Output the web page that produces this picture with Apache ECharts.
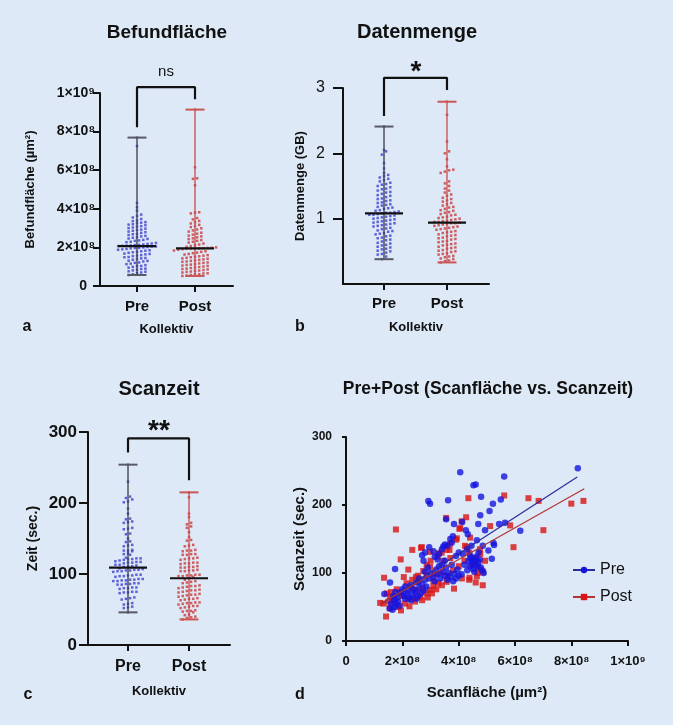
<!DOCTYPE html>
<head>
    <meta charset="utf-8"/>
    <style>
        html,body { height:100%; width:100%; margin:0; padding:0; background:#dde9f6; }
    </style>
</head>
<body>

<div id="fig" style="width:673px;height:725px;"></div>

<script src="https://cdn.jsdelivr.net/npm/echarts@6/dist/echarts.min.js"></script>
<script type="text/javascript">

 var FONT = "'Liberation Sans', Arial, sans-serif";
 var groups = ['Pre', 'Post'];

 // a: Befundfläche, Werte in 1e8 µm²
 var befundPre = [0.57,0.61,0.66,0.7,0.74,0.76,0.81,0.84,0.88,0.9,0.95,0.99,1.03,1.04,1.08,1.13,1.16,1.2,1.22,1.27,
     1.3,1.31,1.36,1.4,1.43,1.45,1.49,1.5,1.55,1.58,1.6,1.64,1.66,1.68,1.72,1.75,1.77,1.8,1.83,1.85,
     1.88,1.9,1.92,1.95,1.97,1.98,2.0,2.02,2.04,2.05,2.07,2.08,2.09,2.1,2.12,2.13,2.15,2.18,2.2,2.23,
     2.27,2.29,2.34,2.36,2.39,2.44,2.46,2.5,2.53,2.57,2.6,2.64,2.68,2.7,2.75,2.79,2.82,2.86,2.9,2.92,
     2.97,3.0,3.03,3.08,3.1,3.15,3.18,3.2,3.26,3.28,3.31,3.36,3.4,3.47,3.55,3.63,3.7,3.9,4.08,4.3,7.25,7.69];
 var befundPost = [0.52,0.54,0.57,0.6,0.61,0.65,0.66,0.7,0.73,0.75,0.78,0.8,0.83,0.86,0.88,0.9,0.93,0.96,0.98,1.01,
     1.04,1.06,1.09,1.11,1.14,1.17,1.2,1.22,1.25,1.27,1.3,1.33,1.35,1.38,1.41,1.43,1.46,1.49,1.52,1.54,
     1.57,1.6,1.63,1.66,1.7,1.73,1.77,1.8,1.84,1.88,1.91,1.93,1.94,1.95,1.95,1.96,1.97,1.98,2.0,2.03,
     2.07,2.11,2.15,2.2,2.25,2.29,2.34,2.38,2.43,2.47,2.52,2.57,2.61,2.66,2.71,2.76,2.82,2.88,2.93,2.99,
     3.05,3.11,3.17,3.24,3.3,3.37,3.45,3.52,3.76,3.8,3.82,5.22,5.55,5.58,6.15,9.14];

 // b: Datenmenge (GB)
 var datenPre = [0.38,0.42,0.45,0.46,0.48,0.5,0.51,0.53,0.54,0.56,0.57,0.59,0.6,0.62,0.63,0.65,0.67,0.68,0.7,0.71,
     0.73,0.74,0.76,0.77,0.78,0.8,0.81,0.82,0.84,0.85,0.86,0.88,0.89,0.9,0.91,0.92,0.93,0.94,0.95,0.96,
     0.97,0.98,0.99,1.0,1.01,1.02,1.03,1.04,1.05,1.06,1.06,1.07,1.08,1.09,1.09,1.1,1.11,1.12,1.13,1.15,
     1.16,1.17,1.18,1.2,1.21,1.22,1.24,1.25,1.27,1.28,1.3,1.31,1.33,1.35,1.36,1.38,1.4,1.41,1.43,1.45,
     1.46,1.48,1.5,1.52,1.53,1.55,1.57,1.59,1.61,1.63,1.65,1.67,1.7,1.77,1.85,1.98,2.03,2.05,2.41];
 var datenPost = [0.33,0.35,0.36,0.38,0.39,0.41,0.42,0.43,0.45,0.46,0.47,0.49,0.5,0.51,0.52,0.54,0.55,0.56,0.57,0.59,
     0.6,0.61,0.62,0.64,0.65,0.66,0.68,0.69,0.7,0.71,0.73,0.74,0.75,0.76,0.78,0.79,0.8,0.81,0.83,0.84,
     0.85,0.86,0.87,0.88,0.89,0.9,0.91,0.92,0.93,0.93,0.94,0.95,0.95,0.96,0.97,0.98,0.99,1.0,1.01,1.02,
     1.03,1.05,1.06,1.07,1.09,1.1,1.12,1.13,1.15,1.17,1.18,1.2,1.22,1.24,1.26,1.28,1.3,1.32,1.35,1.37,
     1.4,1.43,1.46,1.5,1.54,1.57,1.7,1.72,1.74,1.75,1.8,1.91,2.0,2.03,2.18,2.59,2.79];

 // c: Scanzeit (sec.)
 var zeitPre = [254,230,209,207,205,202,201,192,185,178,177,174,173,172,165,164,163,157,156,150,
     146,145,141,140,139,134,133,133,132,129,128,127,123,122,122,121,121,120,119,118,
     117,117,116,116,115,113,113,112,111,111,110,108,107,106,106,105,105,104,104,103,
     99,99,98,98,97,97,96,93,93,92,92,91,91,90,90,87,87,86,86,85,
     85,81,81,80,80,79,75,75,74,74,73,67,66,65,64,59,58,57,54,53,52,46];
 var zeitPost = [215,208,185,180,172,170,167,165,159,152,148,147,141,140,139,134,133,133,132,128,
     128,127,127,123,122,122,121,120,116,116,115,115,114,111,110,110,109,109,106,105,
     105,104,104,99,99,98,98,97,97,96,94,92,90,89,88,87,84,83,83,82,
     81,80,78,77,77,76,75,74,72,71,71,70,69,68,66,65,65,64,63,60,
     60,59,59,58,57,55,55,54,53,52,49,48,48,47,46,43,42,40,39,38,36];

 // Mediane (aus der Abbildung)
 var befundMedian = [2.07, 1.95];
 var datenMedian = [1.08, 0.94];
 var zeitMedian = [109, 94];

 // d: Scanfläche (1e8 µm²) vs. Scanzeit (sec.)
 var scanPre = [[8.22,254],[4.05,248],[5.61,242],[4.52,229],[4.6,230],[2.92,206],[2.98,202],[3.62,207],[4.79,212],[5.21,202],
     [5.49,208],[5.09,191],[4.76,185],[3.55,179],[3.83,172],[4.12,175],[4.69,172],[4.25,163],[4.32,157],[4.93,163],
     [5.43,172],[5.64,174],[3.79,154],[4.64,148],[3.51,142],[3.45,139],[5.23,144],[5.25,141],[5.05,133],[5.17,121],[6.18,162],
     [3.4,135],[3.6,140],[3.7,150],[3.75,145],[3.3,128],[3.1,132],[2.95,138],[2.8,130],[2.7,126],[2.75,118],
     [3.15,124],[3.25,120],[3.5,118],[3.9,125],[4.0,130],[4.15,128],[4.3,135],[4.45,140],[4.4,126],[4.7,130],[4.85,140],
     [4.35,118],[4.42,122],[4.48,115],[4.52,120],[4.56,112],[4.6,118],[4.62,124],[4.66,110],[4.7,116],[4.74,120],
     [4.78,108],[4.5,106],[4.4,110],[4.3,104],[4.82,104],[4.88,100],[4.55,102],[4.2,112],[4.1,98],[3.95,105],
     [3.0,100],[3.1,95],[3.2,105],[3.25,98],[3.3,110],[3.35,92],[3.45,102],[3.5,96],[3.55,108],[3.6,90],
     [3.65,100],[3.7,94],[3.75,112],[3.8,88],[3.85,99],[3.9,92],[4.0,96],[3.4,112],[3.15,88],[2.95,92],[2.8,102],[2.9,108],
     [1.95,72],[2.0,76],[2.05,66],[2.1,80],[2.15,70],[2.2,74],[2.25,64],[2.3,82],[2.35,68],[2.4,76],[2.45,72],
     [2.5,86],[2.55,66],[2.6,78],[2.65,70],[2.7,84],[2.75,74],[2.8,90],[2.85,80],[2.5,62],[2.3,60],[2.1,62],[2.6,92],
     [1.55,48],[1.6,55],[1.65,46],[1.7,60],[1.72,50],[1.78,54],[1.82,64],[1.85,58],[1.9,52],[1.68,66],[1.75,72],
     [1.36,69],[1.56,86],[1.74,106]];
 var scanPost = [[8.42,206],[7.99,202],[6.83,206],[6.47,210],[7.0,163],[5.94,138],[5.82,170],[5.61,214],[4.34,210],[4.26,182],
     [3.55,181],[5.11,169],[4.05,166],[4.4,152],[4.22,140],[3.9,149],[3.69,143],[1.77,164],[2.69,138],[2.35,134],
     [1.94,120],[1.35,93],[2.21,105],[2.98,131],[3.28,129],[2.86,112],[2.48,94],[3.83,77],[4.38,93],[4.67,100],
     [4.11,92],[1.21,56],[1.42,36],[1.33,55],[4.1,176],[4.02,165],[3.93,151],[3.57,134],[2.66,137],[3.24,124],
     [3.39,130],[3.67,134],[4.28,138],[4.37,130],[4.76,128],[4.93,118],[2.98,109],[2.86,97],[2.74,103],[3.28,85],
     [3.1,88],[3.57,87],[4.37,90],[4.64,95],[4.86,102],[2.15,85],[2.33,77],[2.51,75],[1.92,70],[1.74,63],
     [1.56,65],[2.39,63],[2.63,65],[2.86,70],[2.74,77],[2.57,87],[2.98,75],[3.1,80],[2.09,55],[2.25,51],
     [1.86,50],[1.68,58],[1.5,58],[1.6,72],[1.8,76],[2.0,66],[2.2,62],[2.45,58],[2.7,60],[2.9,64],
     [3.05,70],[3.2,76],[3.4,82],[3.6,96],[3.8,104],[4.0,110],[4.2,118],[4.45,112],[4.55,122],[4.7,108],
     [3.35,100],[3.15,98],[2.55,96],[2.35,90],[2.05,94],[1.45,70],[1.55,48],[1.95,45],[3.0,118],[3.45,118],
     [3.7,122],[4.6,86],[4.85,82],[4.75,135]];
 // Regressionsgeraden (Endpunkte aus der Abbildung)
 var fitPre = [[1.3,56],[8.2,241]];
 var fitPost = [[1.18,54],[8.45,224]];

 var powLabels = ['0','2×10⁸','4×10⁸','6×10⁸','8×10⁸','1×10⁹'];

 var E8 = 1e8;
 var DOT_GAP = 4.2, ROW_H = 3.3;

 // GraphPad-artige Anordnung: Punkte einer Zeile nebeneinander
 function swarm(vals, cat, scale, pxY, pxX) {
     var s = vals.map(function (v) { return v * scale; }).sort(function (a, b) { return a - b; });
     var out = [], row = [];
     function flush() {
         var n = row.length;
         row.forEach(function (v, i) { out.push([cat + (i - (n - 1) / 2) * DOT_GAP / pxX, v]); });
         row = [];
     }
     s.forEach(function (v) {
         if (row.length && (v - row[0]) * pxY > ROW_H) flush();
         row.push(v);
     });
     flush();
     return out;
 }

 function stats(pre, post, med, scale) {
     return [pre, post].map(function (a, i) {
         return [i + 1, Math.min.apply(null, a) * scale, med[i] * scale, Math.max.apply(null, a) * scale];
     });
 }

 var barColors = [{ line: '#3a3a48', cap: '#5a5a64' }, { line: '#cc4a4a', cap: '#cc5555' }];

 function rangeSeries(idx, data) {
     return {
         type: 'custom', xAxisIndex: idx, yAxisIndex: idx, z: 4, data: data,
         renderItem: function (params, api) {
             var c = barColors[params.dataIndex];
             var x = api.value(0);
             var pMin = api.coord([x, api.value(1)]);
             var pMed = api.coord([x, api.value(2)]);
             var pMax = api.coord([x, api.value(3)]);
             var cw = 9.5, mw = 19;
             return {
                 type: 'group', children: [
                     { type: 'line', shape: { x1: pMin[0], y1: pMin[1], x2: pMax[0], y2: pMax[1] }, style: { stroke: c.line, lineWidth: 1.3 } },
                     { type: 'line', shape: { x1: pMax[0] - cw, y1: pMax[1], x2: pMax[0] + cw, y2: pMax[1] }, style: { stroke: c.cap, lineWidth: 2 } },
                     { type: 'line', shape: { x1: pMin[0] - cw, y1: pMin[1], x2: pMin[0] + cw, y2: pMin[1] }, style: { stroke: c.cap, lineWidth: 2 } },
                     { type: 'line', shape: { x1: pMed[0] - mw, y1: pMed[1], x2: pMed[0] + mw, y2: pMed[1] }, style: { stroke: '#111', lineWidth: 2.2 } }
                 ]
             };
         }
     };
 }

 function dotSeries(idx, data, color) {
     return {
         type: 'scatter', xAxisIndex: idx, yAxisIndex: idx, z: 3, data: data,
         symbol: 'rect', symbolSize: 2.5, itemStyle: { color: color }, silent: true
     };
 }

 function bracketSeries(idx, legL, top, legR) {
     return {
         type: 'line', xAxisIndex: idx, yAxisIndex: idx, clip: false, symbol: 'none', silent: true,
         data: [[1, legL], [1, top], [2, top], [2, legR]],
         lineStyle: { color: '#111', width: 2.2 }
     };
 }

 var axisLineStyle = { lineStyle: { color: '#111', width: 2 } };
 var tickStyle = { color: '#111', width: 2 };

 function groupAxis(gi, min, max, fs, margin, nameGap) {
     return {
         gridIndex: gi, type: 'value', min: min, max: max,
         name: 'Kollektiv', nameLocation: 'middle', nameGap: nameGap,
         nameTextStyle: { fontFamily: FONT, fontWeight: 'bold', fontSize: 13, color: '#111' },
         axisLine: { onZero: false, lineStyle: axisLineStyle.lineStyle },
         axisTick: { customValues: [1, 2], length: 6, lineStyle: tickStyle },
         axisLabel: { customValues: [1, 2], formatter: function (v) { return groups[v - 1]; },
             fontFamily: FONT, fontWeight: 'bold', fontSize: fs, color: '#111', margin: margin },
         splitLine: { show: false }
     };
 }

 function valAxis(gi, o) {
     return {
         gridIndex: gi, type: 'value', min: o.min, max: o.max, interval: o.interval,
         name: o.name, nameLocation: 'middle', nameGap: o.nameGap,
         nameTextStyle: { fontFamily: FONT, fontWeight: 'bold', fontSize: o.nameSize, color: '#111' },
         axisLine: { show: true, onZero: false, lineStyle: axisLineStyle.lineStyle },
         axisTick: { show: true, length: o.tick, lineStyle: tickStyle },
         axisLabel: { fontFamily: FONT, fontWeight: o.weight || 'bold', fontSize: o.fs, color: '#111', margin: o.margin,
             showMinLabel: o.showMin !== false, formatter: o.formatter, rich: o.rich },
         splitLine: { show: false }
     };
 }

 var fig = echarts.init(document.getElementById('fig'));

 var pxA = 193 / 1e9, pxB = 196 / 3, pxC = 213 / 300;

 function txt(x, y, text, font) {
     return { type: 'text', x: x, y: y, style: { text: text, font: font + ' ' + FONT, fill: '#111', textAlign: 'center', textVerticalAlign: 'middle' } };
 }

 var option = {
     backgroundColor: '#dde9f6',
     animation: false,
     textStyle: { fontFamily: FONT },
     grid: [
         { left: 100, top: 93, width: 133, height: 193 },
         { left: 343, top: 88, width: 146, height: 196 },
         { left: 88, top: 432, width: 142, height: 213 },
         { left: 346, top: 437, width: 282, height: 204 }
     ],
     xAxis: [
         groupAxis(0, 0.362, 2.655, 15, 13, 37),
         groupAxis(1, 0.349, 2.667, 15, 12, 37),
         groupAxis(2, 0.344, 2.672, 16, 14, 40),
         {
             gridIndex: 3, type: 'value', min: 0, max: 1e9, interval: 2e8,
             name: 'Scanfläche (µm²)', nameLocation: 'middle', nameGap: 44,
             nameTextStyle: { fontFamily: FONT, fontWeight: 'bold', fontSize: 15, color: '#111' },
             axisLine: { onZero: false, lineStyle: axisLineStyle.lineStyle },
             axisTick: { length: 5, lineStyle: tickStyle },
             axisLabel: { fontFamily: FONT, fontWeight: 'bold', fontSize: 13, color: '#111', margin: 14,
                 formatter: function (v) { return powLabels[Math.round(v / 2e8)]; } },
             splitLine: { show: false }
         }
     ],
     yAxis: [
         valAxis(0, { min: 0, max: 1e9, interval: 2e8, name: 'Befundfläche (µm²)', nameGap: 63, nameSize: 13, tick: 7, fs: 14, margin: 5,
             formatter: function (v) { return v === 0 ? '{z|0}' : powLabels[Math.round(v / 2e8)]; },
             rich: { z: { fontFamily: FONT, fontWeight: 'bold', fontSize: 14, color: '#111', padding: [0, 8, 0, 0] } } }),
         valAxis(1, { min: 0, max: 3, interval: 1, name: 'Datenmenge (GB)', nameGap: 36, nameSize: 13, tick: 10, fs: 16, margin: 18,
             weight: 'normal', showMin: false }),
         valAxis(2, { min: 0, max: 300, interval: 100, name: 'Zeit (sec.)', nameGap: 48, nameSize: 14, tick: 9, fs: 17, margin: 11 }),
         valAxis(3, { min: 0, max: 300, interval: 100, name: 'Scanzeit (sec.)', nameGap: 39, nameSize: 15, tick: 4, fs: 12, margin: 14 })
     ],
     legend: {
         data: ['Pre', 'Post'], orient: 'vertical', left: 567, top: 557, itemWidth: 22, itemHeight: 8, itemGap: 11,
         textStyle: { fontFamily: FONT, fontSize: 16, color: '#111' },
         selectedMode: false
     },
     graphic: [
         txt(167, 33, 'Befundfläche', 'bold 19px'),
         txt(417, 32, 'Datenmenge', 'bold 20px'),
         txt(159, 389, 'Scanzeit', 'bold 20px'),
         txt(488, 389, 'Pre+Post (Scanfläche vs. Scanzeit)', 'bold 17.5px'),
         txt(166, 72, 'ns', '15px'),
         txt(416, 72, '*', 'bold 28px'),
         txt(159, 431, '**', 'bold 28px'),
         txt(27, 327, 'a', 'bold 16px'),
         txt(300, 327, 'b', 'bold 16px'),
         txt(28, 695, 'c', 'bold 16px'),
         txt(300, 695, 'd', 'bold 16px')
     ],
     series: [
         dotSeries(0, swarm(befundPre, 1, E8, pxA, 58), '#4040cc'),
         dotSeries(0, swarm(befundPost, 2, E8, pxA, 58), '#cc3a3a'),
         rangeSeries(0, stats(befundPre, befundPost, befundMedian, E8)),
         bracketSeries(0, 8.22e8, 10.3e8, 9.67e8),

         dotSeries(1, swarm(datenPre, 1, 1, pxB, 63), '#4040cc'),
         dotSeries(1, swarm(datenPost, 2, 1, pxB, 63), '#cc3a3a'),
         rangeSeries(1, stats(datenPre, datenPost, datenMedian, 1)),
         bracketSeries(1, 2.57, 3.155, 2.97),

         dotSeries(2, swarm(zeitPre, 1, 1, pxC, 61), '#4040cc'),
         dotSeries(2, swarm(zeitPost, 2, 1, pxC, 61), '#cc3a3a'),
         rangeSeries(2, stats(zeitPre, zeitPost, zeitMedian, 1)),
         bracketSeries(2, 271, 291, 232),

         {
             name: 'Pre', type: 'line', xAxisIndex: 3, yAxisIndex: 3, z: 5, symbol: 'circle', symbolSize: 6, showSymbol: false,
             data: fitPre.map(function (p) { return [p[0] * E8, p[1]]; }),
             itemStyle: { color: '#1414e0' }, lineStyle: { color: '#2b2b9c', width: 1.2 }
         },
         {
             name: 'Post', type: 'line', xAxisIndex: 3, yAxisIndex: 3, z: 5, symbol: 'rect', symbolSize: 6, showSymbol: false,
             data: fitPost.map(function (p) { return [p[0] * E8, p[1]]; }),
             itemStyle: { color: '#d81414' }, lineStyle: { color: '#b03434', width: 1.2 }
         },
         {
             name: 'Pre', type: 'scatter', xAxisIndex: 3, yAxisIndex: 3, z: 3, symbol: 'circle', symbolSize: 6.5,
             data: scanPre.map(function (p) { return [p[0] * E8, p[1]]; }),
             itemStyle: { color: '#1414e0' }
         },
         {
             name: 'Post', type: 'scatter', xAxisIndex: 3, yAxisIndex: 3, z: 2, symbol: 'rect', symbolSize: 6,
             data: scanPost.map(function (p) { return [p[0] * E8, p[1]]; }),
             itemStyle: { color: '#d81414' }
         }
     ]
 };

 fig.setOption(option);

</script>
</body>
